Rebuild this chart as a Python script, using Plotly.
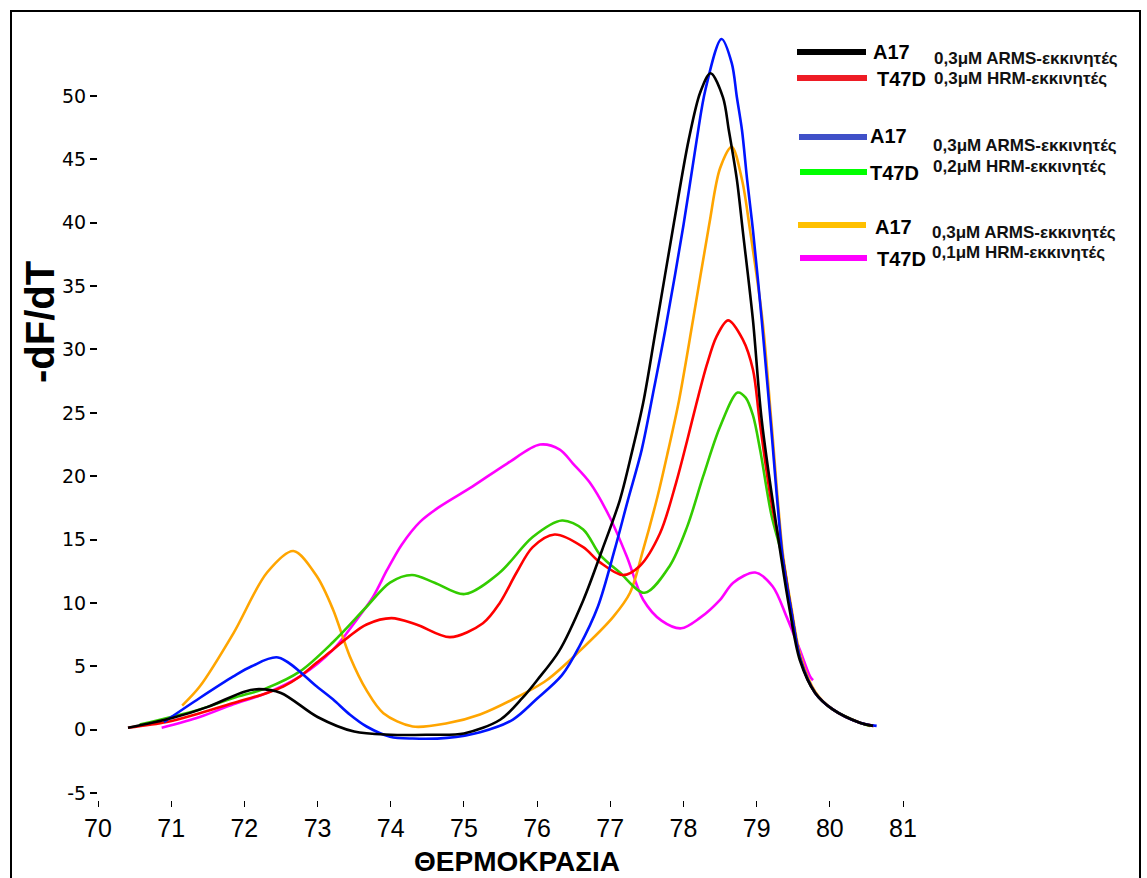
import plotly.graph_objects as go

# Melting-curve derivative (-dF/dT) versus temperature, six runs
mag_T = [70.87, 71.39, 71.85, 72.31, 72.76, 73.21, 73.5, 73.76, 73.95, 74.15, 74.4, 74.67, 75.12, 75.59, 76.04, 76.31,
         76.49, 76.72, 76.99, 77.23, 77.45, 77.7, 77.97, 78.22, 78.5, 78.68, 78.98, 79.22, 79.41, 79.59, 79.73, 79.77]
mag_v = [0.15, 1.0, 2.0, 2.9, 4.2, 6.3, 8.4, 10.5, 12.6, 14.6, 16.4, 17.6, 19.2, 21.0, 22.5, 22.1,
         21.0, 19.5, 16.8, 13.6, 10.25, 8.6, 8.0, 8.8, 10.25, 11.6, 12.4, 11.3, 8.9, 6.3, 4.2, 3.9]

orange_T = [71.15, 71.39, 71.85, 72.31, 72.67, 72.99, 73.21, 73.44, 73.67, 73.9, 74.3, 74.77, 75.22, 75.67, 76.13,
            76.58, 77.04, 77.27, 77.45, 77.65, 77.79, 77.94, 78.13, 78.35, 78.5, 78.66, 78.8, 78.91, 79.08, 79.2,
            79.36, 79.47, 79.6, 79.8, 80.04, 80.41, 80.6]
orange_v = [1.9, 3.4, 7.6, 12.4, 14.1, 12.1, 9.5, 5.8, 3.1, 1.3, 0.25, 0.5, 1.2, 2.4, 3.9,
            6.2, 8.9, 10.8, 14.2, 18.5, 22.0, 26.0, 32.3, 39.8, 44.3, 46.0, 43.4, 39.4, 32.3, 24.4,
            13.8, 9.8, 5.8, 3.0, 1.6, 0.55, 0.3]

green_T = [70.57, 71.39, 71.85, 72.31, 72.76, 73.21, 73.67, 73.99, 74.29, 74.6, 75.01, 75.49, 75.94, 76.34, 76.63,
           76.86, 77.13, 77.47, 77.81, 78.05, 78.27, 78.5, 78.74, 78.85, 78.95, 79.05, 79.2, 79.36, 79.47, 79.6,
           79.8, 80.04, 80.41, 80.55]
green_v = [0.4, 1.6, 2.5, 3.3, 4.6, 6.9, 9.7, 11.6, 12.2, 11.6, 10.7, 12.4, 15.2, 16.5, 15.8,
           13.8, 12.4, 10.8, 12.9, 16.0, 20.0, 23.9, 26.6, 26.2, 24.8, 22.0, 17.0, 13.4, 9.5, 5.5,
           2.9, 1.6, 0.55, 0.3]

red_T = [70.41, 70.94, 71.39, 71.85, 72.31, 72.53, 72.76, 72.99, 73.21, 73.44, 73.67, 74.01, 74.35, 74.81, 75.26,
         75.49, 75.72, 75.94, 76.24, 76.63, 76.86, 77.17, 77.4, 77.68, 77.9, 78.05, 78.18, 78.32, 78.45, 78.61,
         78.81, 78.95, 79.04, 79.2, 79.36, 79.47, 79.6, 79.8, 80.04, 80.41, 80.6]
red_v = [0.15, 0.6, 1.3, 2.1, 2.9, 3.4, 4.2, 5.3, 6.3, 7.4, 8.3, 8.8, 8.3, 7.3, 8.4,
         10.0, 12.4, 14.4, 15.4, 14.4, 13.2, 12.2, 12.9, 15.5, 19.5, 22.8, 25.8, 28.8, 31.0, 32.3,
         30.8, 28.4, 24.4, 18.0, 13.4, 9.5, 5.5, 2.9, 1.6, 0.55, 0.3]

blue_T = [70.9, 71.39, 71.85, 72.1, 72.46, 72.99, 73.21, 73.44, 73.67, 73.99, 74.3, 74.77, 75.22, 75.67, 75.99,
          76.34, 76.58, 76.83, 77.06, 77.24, 77.43, 77.6, 77.75, 78.0, 78.18, 78.3, 78.52, 78.66, 78.73,
          78.8, 78.87, 78.95, 79.07, 79.19, 79.36, 79.47, 79.6, 79.8, 80.04, 80.41, 80.64]
blue_v = [0.6, 2.5, 4.2, 5.0, 5.7, 3.4, 2.4, 1.2, 0.25, -0.55, -0.7, -0.65, -0.2, 0.8, 2.4,
          4.3, 6.6, 9.7, 14.2, 18.1, 22.1, 27.0, 31.5, 39.8, 46.5, 50.5, 54.5, 52.6, 49.9,
          47.3, 43.4, 39.4, 32.3, 24.4, 13.4, 9.5, 5.5, 2.9, 1.6, 0.55, 0.3]

black_T = [70.41, 71.0, 71.5, 72.0, 72.2, 72.5, 73.0, 73.5, 74.0, 74.5, 75.0, 75.5, 75.8, 76.0, 76.3,
           76.63, 76.89, 77.13, 77.3, 77.45, 77.62, 77.87, 78.07, 78.23, 78.37, 78.54, 78.62, 78.73, 78.81, 78.95,
           79.07, 79.34, 79.45, 79.59, 79.8, 80.04, 80.41, 80.59]
black_v = [0.15, 0.9, 1.8, 3.0, 3.2, 2.9, 1.0, -0.15, -0.4, -0.4, -0.3, 0.8, 2.5, 3.9, 6.2,
           10.2, 14.2, 18.1, 22.0, 25.8, 31.5, 40.0, 46.5, 50.3, 51.8, 49.9, 47.3, 43.4, 39.4, 32.3,
           24.4, 13.4, 9.5, 5.5, 2.9, 1.6, 0.55, 0.3]

x_ticks = [70, 71, 72, 73, 74, 75, 76, 77, 78, 79, 80, 81]
y_ticks = [-5, 0, 5, 10, 15, 20, 25, 30, 35, 40, 45, 50]

legend_rows = [
    ("A17", "0,3μM ARMS-εκκινητές", "#000000"),
    ("T47D", "0,3μM HRM-εκκινητές", "#ee1c25"),
    ("A17", "0,3μM ARMS-εκκινητές", "#4050c8"),
    ("T47D", "0,2μM HRM-εκκινητές", "#00ff00"),
    ("A17", "0,3μM ARMS-εκκινητές", "#ffc000"),
    ("T47D", "0,1μM HRM-εκκινητές", "#ff00ff"),
]

W, H = 1147, 878
L, R, T, B = 98, 244, 20, 78
PW, PH = W - L - R, H - T - B


def px(x):
    return (x - L) / PW


def py(y):
    return (H - B - y) / PH


fig = go.Figure()
series = [
    (mag_T, mag_v, "#ff00ff"),
    (orange_T, orange_v, "#ffa500"),
    (green_T, green_v, "#33cc00"),
    (red_T, red_v, "#ff0000"),
    (blue_T, blue_v, "#0014ff"),
    (black_T, black_v, "#000000"),
]
for xs, ys, col in series:
    fig.add_trace(go.Scatter(x=xs, y=ys, mode="lines", line=dict(color=col, width=2.6, shape="spline", smoothing=0.9),
                             showlegend=False, hoverinfo="skip"))

shapes = [dict(type="rect", xref="paper", yref="paper", x0=px(11), x1=px(1140), y0=py(900), y1=py(11),
               line=dict(color="black", width=2), fillcolor="rgba(0,0,0,0)", layer="above")]
annotations = []

# legend: line sample, sample name, primer description
line_rows = [(797, 866, 52), (797, 867, 78), (799, 867, 137), (800, 867, 172), (798, 866, 225), (800, 867, 258)]
name_pos = [(871, 52), (875, 79), (868, 136), (868, 173), (873, 227), (875, 259)]
desc_pos = [(932, 58), (932, 79), (931, 145), (931, 166), (930, 232), (930, 252)]
for (name, desc, col), (x0, x1, yl), (nx, ny), (dx, dy) in zip(legend_rows, line_rows, name_pos, desc_pos):
    shapes.append(dict(type="line", xref="paper", yref="paper", x0=px(x0), x1=px(x1), y0=py(yl), y1=py(yl),
                       line=dict(color=col, width=6)))
    annotations.append(dict(xref="paper", yref="paper", x=px(nx), y=py(ny), text=f"<b>{name}</b>",
                            showarrow=False, xanchor="left", yanchor="middle",
                            font=dict(family="Liberation Sans, Arial", size=20, color="black")))
    annotations.append(dict(xref="paper", yref="paper", x=px(dx), y=py(dy), text=f"<b>{desc}</b>",
                            showarrow=False, xanchor="left", yanchor="middle",
                            font=dict(family="Liberation Sans, Arial", size=17, color="#111111")))

annotations.append(dict(xref="paper", yref="paper", x=px(40), y=py(322), text="<b>-dF/dT</b>", textangle=-90,
                        showarrow=False, xanchor="center", yanchor="middle",
                        font=dict(family="Liberation Sans, Arial", size=40, color="black")))
annotations.append(dict(xref="paper", yref="paper", x=px(517), y=py(861), text="<b>ΘΕΡΜΟΚΡΑΣΙΑ</b>",
                        showarrow=False, xanchor="center", yanchor="middle",
                        font=dict(family="Liberation Sans, Arial", size=28, color="black")))

fig.update_layout(
    width=W, height=H,
    margin=dict(l=L, r=R, t=T, b=B, autoexpand=False),
    paper_bgcolor="white", plot_bgcolor="white",
    shapes=shapes, annotations=annotations,
    xaxis=dict(range=[70, 81], tickvals=x_ticks, ticktext=[str(v) for v in x_ticks],
               showline=False, showgrid=False, zeroline=False,
               ticks="outside", ticklen=6, tickwidth=1, tickcolor="black",
               tickfont=dict(family="Liberation Sans, Arial", size=25, color="black")),
    yaxis=dict(range=[-5.55, 56], tickvals=y_ticks, ticktext=[str(v) for v in y_ticks],
               showline=False, showgrid=False, zeroline=False,
               ticks="outside", ticklen=7, tickwidth=1.5, tickcolor="black",
               tickfont=dict(family="DejaVu Sans, Verdana", size=19, color="black")),
)

fig.write_html("out.html")
